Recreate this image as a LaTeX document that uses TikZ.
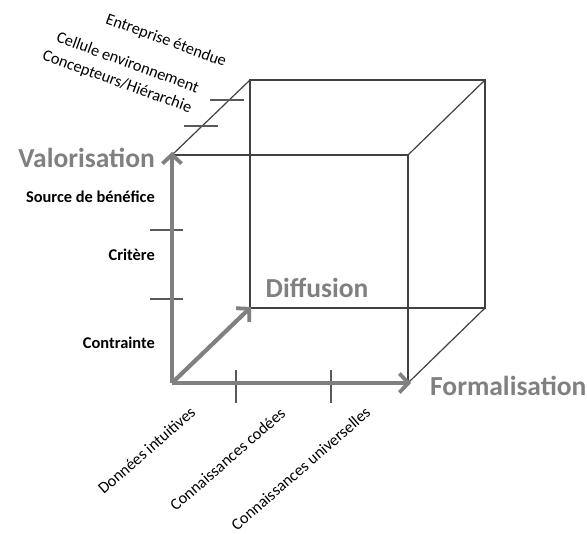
\documentclass[tikz,border=0pt]{standalone}
\usepackage{fontspec}
\setmainfont{Carlito}
\usetikzlibrary{arrows.meta}
\definecolor{edgegray}{HTML}{404040}
\definecolor{axisgray}{HTML}{808080}
\definecolor{tickgray}{HTML}{595959}
\begin{document}
\begin{tikzpicture}[x=1pt,y=-1pt,
  edge/.style={draw=edgegray, line width=1.2pt},
  axis/.style={draw=axisgray, line width=4.2pt, -{Straight Barb[length=9pt,width=19pt,line width=3.8pt]}},
  tickmark/.style={draw=tickgray, line width=2.8pt},
  axislabel/.style={text=axisgray, font=\fontsize{27.5}{30}\selectfont\bfseries, inner sep=0pt},
  vlabel/.style={font=\fontsize{16.4}{18}\selectfont\bfseries, anchor=east, inner sep=0pt},
  rlabel/.style={font=\fontsize{16.3}{18}\selectfont, inner sep=0pt}]
\useasboundingbox (0,0) rectangle (587,534);
% corners
\coordinate (O) at (172,383);
\coordinate (V) at (172,155);
\coordinate (F) at (408,383);
\coordinate (D) at (250,308);
\coordinate (FT) at (408,155);
\coordinate (BTL) at (250,80);
\coordinate (BTR) at (485,80);
\coordinate (BBR) at (485,308);
% cube edges
\draw[edge] (V) -- (FT) -- (F);
\draw[edge] (D) -- (BTL) -- (BTR) -- (BBR) -- cycle;
\draw[edge] (V) -- (BTL);
\draw[edge] (FT) -- (BTR);
\draw[edge] (F) -- (BBR);
% ticks
\coordinate (ta1) at (150,230); \coordinate (ta2) at (183,230);
\coordinate (tb1) at (150,299); \coordinate (tb2) at (183,299);
\coordinate (tc1) at (236,370); \coordinate (tc2) at (236,403);
\coordinate (td1) at (331,370); \coordinate (td2) at (331,403);
\coordinate (te1) at (210,100); \coordinate (te2) at (244,100);
\coordinate (tf1) at (184,126); \coordinate (tf2) at (218,126);
\draw[tickmark] (ta1) -- (ta2);
\draw[tickmark] (tb1) -- (tb2);
\draw[tickmark] (tc1) -- (tc2);
\draw[tickmark] (td1) -- (td2);
\draw[tickmark] (te1) -- (te2);
\draw[tickmark] (tf1) -- (tf2);
% axes
\coordinate (Vt) at (172,152);
\coordinate (Ft) at (411,383);
\coordinate (Dt) at (251,307);
\draw[axis] (O) -- (Vt);
\draw[axis] (O) -- (Ft);
\draw[axis] (O) -- (Dt);
% axis labels
\node[axislabel, anchor=east] (val) at (155,158) {Valorisation};
\node[axislabel] (dif) at (317,288) {Diffusion};
\node[axislabel, anchor=west] (for) at (430,386) {Formalisation};
% vertical labels
\node[vlabel] (src) at (155,197) {Source de bénéfice};
\node[vlabel] (cri) at (155,255) {Critère};
\node[vlabel] (con) at (155,343) {Contrainte};
% bottom labels
\node[rlabel, anchor=east, rotate=41] (don) at (193,410) {Données intuitives};
\node[rlabel, anchor=east, rotate=41] (cod) at (283,411) {Connaissances codées};
\node[rlabel, anchor=east, rotate=41] (uni) at (368,410) {Connaissances universelles};
% top labels
\node[rlabel, rotate=-20] (ent) at (166,41) {Entreprise étendue};
\node[rlabel, rotate=-20] (cel) at (128,62) {Cellule environnement};
\node[rlabel, rotate=-20] (cpt) at (117,82) {Concepteurs/Hiérarchie};
\end{tikzpicture}
\end{document}
